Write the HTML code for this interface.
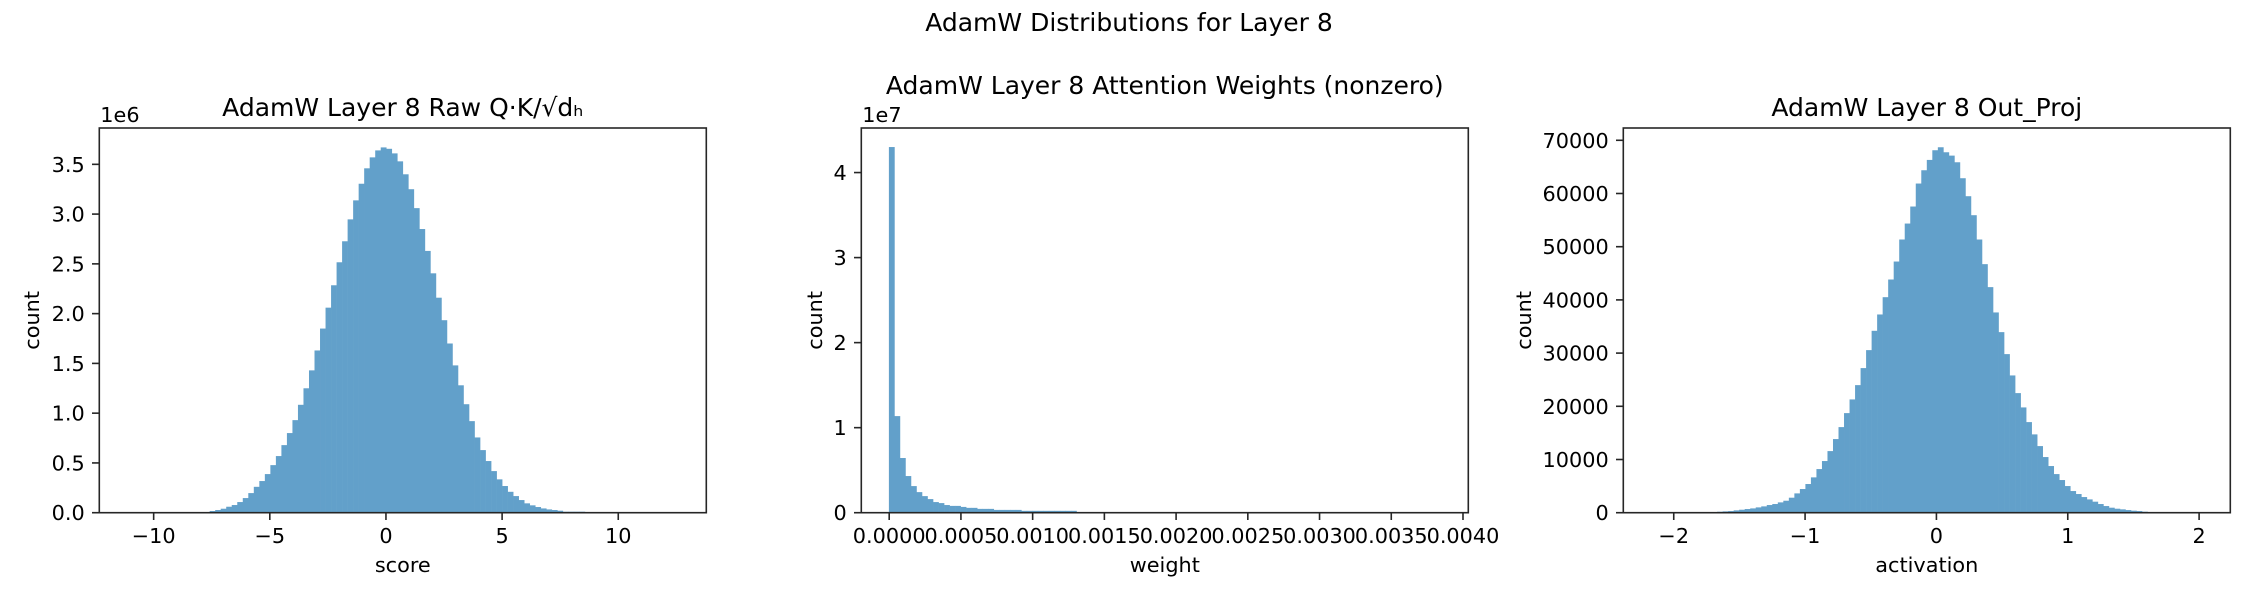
<!DOCTYPE html>
<html><head><meta charset="utf-8"><style>
html,body{margin:0;padding:0;background:#fff}
svg{display:block}
text{font-family:"DejaVu Sans","Liberation Sans",sans-serif;fill:#000}
</style></head><body>
<svg id="fig" width="2250" height="600" viewBox="0 0 2250 600" xmlns="http://www.w3.org/2000/svg">
<rect width="2250" height="600" fill="#fff"/>
<text x="1129" y="31" font-size="25" text-anchor="middle">AdamW Distributions for Layer 8</text>
</svg>
<script>
// ---- Panel 1: Raw Q·K/√dh scores (units of 1e6) ----
const scoreCounts = [0,0,0,0,0,0,0,0.001,0.001,0.001,0.002,0.002,0.003,0.004,
 0.007,0.017,0.027,0.04,0.06,0.077,0.107,0.147,0.197,0.26,
 0.318,0.388,0.478,0.569,0.679,0.80,0.93,1.084,1.25,1.43,
 1.63,1.85,2.06,2.285,2.516,2.727,2.947,3.138,3.305,3.46,
 3.57,3.64,3.67,3.656,3.61,3.53,3.40,3.25,3.06,2.85,
 2.63,2.405,2.16,1.934,1.70,1.48,1.28,1.09,0.92,0.756,
 0.629,0.519,0.418,0.335,0.268,0.21,0.167,0.127,0.094,0.074,
 0.057,0.043,0.033,0.027,0.02,0.01,0.01,0.01,0.01,
 0.005,0.004,0.003,0.002,0.002,0.001,0.001,0.001,0.001,0,0,0,0,0,0,0,0];
const scoreRange = [-12.34, 13.79];
const scoreYMax = 3.865;
const scoreXTicks = [-10,-5,0,5,10];
const scoreXTickLabels = ["\u221210","\u22125","0","5","10"];
const scoreYTicks = [0,0.5,1,1.5,2,2.5,3,3.5];
const scoreYTickLabels = ["0.0","0.5","1.0","1.5","2.0","2.5","3.0","3.5"];

// ---- Panel 2: attention weights (units of 1e7) ----
const weightCounts = [4.30,1.136,0.643,0.431,0.313,0.242,0.195,0.16,0.125,0.113,
 0.09,0.08,0.08,0.068,0.057,0.057,0.045,0.045,0.045,0.033,0.033,0.033,0.033,0.033,
 0.022,0.022,0.022,0.022,0.022,0.022,0.022,0.022,0.022,0.022,
 0.006,0.005,0.005,0.004,0.004,0.004,0.003,0.003,0.003,0.003,0.002,0.002,0.002,0.002,0.002,0.002,
 0.001,0.001,0.001,0.001,0.001,0.001,0.001,0.001,0.001,0.001,
 0.001,0.001,0.001,0.001,0.001,0,0,0,0,0,0,0,0,0,0,0,0,0,0,0,0,0,0,0,0,0,0,0,0,0,0,0,0,0,0,0,0,0,0,0];
const weightRange = [-0.0001945, 0.004037];
const weightYMax = 4.524;
const weightXTicks = [0,0.0005,0.001,0.0015,0.002,0.0025,0.003,0.0035,0.004];
const weightXTickLabels = ["0.0000","0.0005","0.0010","0.0015","0.0020","0.0025","0.0030","0.0035","0.0040"];
const weightYTicks = [0,1,2,3,4];
const weightYTickLabels = ["0","1","2","3","4"];

// ---- Panel 3: Out_Proj activations ----
const actCounts = [0,10,0,20,20,30,40,50,60,80,100,130,180,
 250,310,440,560,690,810,1000,1190,1440,1630,1940,2250,2820,3630,4450,5390,6640,
 8200,9710,11580,13840,16090,18720,21290,23980,27180,30560,34190,37260,40510,43830,
 47210,51350,54350,57550,61870,64370,66310,68130,68690,67750,67120,65870,62870,
 59490,55920,51350,46720,42400,37640,33940,29810,25800,22480,19790,17030,14720,
 12520,10460,8770,7260,6140,5010,4070,3510,2940,2500,2070,1630,1250,940,750,630,500,380,310,190,
 120,90,60,40,30,20,10,10,0,0];
const actRange = [-2.384, 2.2375];
const actYMax = 72310;
const actXTicks = [-2,-1,0,1,2];
const actXTickLabels = ["\u22122","\u22121","0","1","2"];
const actYTicks = [0,10000,20000,30000,40000,50000,60000,70000];
const actYTickLabels = ["0","10000","20000","30000","40000","50000","60000","70000"];

const NS = "http://www.w3.org/2000/svg";
const fig = document.getElementById('fig');
function mk(tag, attrs, parent){
  const e = document.createElementNS(NS, tag);
  for (const k in attrs) e.setAttribute(k, attrs[k]);
  (parent||fig).appendChild(e);
  return e;
}
const TOP = 128, BOT = 512.7;

function panel(o){
  const g = mk('g', {});
  
  
  const L = o.left, R = o.left + 607;
  const xs = v => L + (v - o.range[0]) / (o.range[1] - o.range[0]) * (R - L);
  const ys = v => BOT - v / o.ymax * (BOT - TOP);
  const D = (o.range[1] - o.range[0]) / 1.1;
  const dmin = o.range[0] + 0.05 * D;
  const bw = D / o.counts.length;
  const bars = mk('g', {fill: '#62a0ca'}, g);
  
  
  o.counts.forEach((c, i) => {
    if (c <= 0) return;
    const x0 = xs(dmin + i * bw), x1 = xs(dmin + (i + 1) * bw);
    const r = mk('rect', {x: x0, y: ys(c), width: x1 - x0 + 0.3, height: BOT - ys(c)}, bars);
    
    
  });
  const frame = mk('rect', {x: L, y: TOP, width: R - L, height: BOT - TOP, fill: 'none', stroke: '#262626', 'stroke-width': 1.6}, g);
  
  
  o.xticks.forEach((v, i) => {
    const x = xs(v);
    mk('line', {x1: x, x2: x, y1: BOT, y2: BOT + 7.3, stroke: '#262626', 'stroke-width': 1.6}, g);
    const t = mk('text', {x: x, y: 543, 'font-size': 20.8, 'text-anchor': 'middle'}, g);
    t.textContent = o.xlabels[i];
    
    
  });
  o.yticks.forEach((v, i) => {
    const y = ys(v);
    mk('line', {x1: L - 7.3, x2: L, y1: y, y2: y, stroke: '#262626', 'stroke-width': 1.6}, g);
    const t = mk('text', {x: L - 14.6, y: y + 7.5, 'font-size': 20.8, 'text-anchor': 'end'}, g);
    t.textContent = o.ylabels[i];
    
    
  });
  const xl = mk('text', {x: (L + R) / 2, y: 572, 'font-size': 20.8, 'text-anchor': 'middle'}, g);
  xl.textContent = o.xtitle;
  
  
  const yl = mk('text', {x: 0, y: 0, 'font-size': 20.8, 'text-anchor': 'middle', transform: `translate(${o.ylabelX},${(TOP + BOT) / 2}) rotate(-90)`}, g);
  yl.textContent = 'count';
  
  
  const ti = mk('text', {x: (L + R) / 2, y: o.titleY, 'font-size': 25, 'text-anchor': 'middle'}, g);
  ti.textContent = o.title;
  
  
  if (o.offset) {
    const of = mk('text', {x: L + 1, y: 122, 'font-size': 20.8}, g);
    of.textContent = o.offset;
    
    
  }
}

panel({name: 'score-panel', left: 99.3, range: scoreRange, ymax: scoreYMax, counts: scoreCounts,
  xticks: scoreXTicks, xlabels: scoreXTickLabels, yticks: scoreYTicks, ylabels: scoreYTickLabels,
  xtitle: 'score', ylabelX: 39, title: 'AdamW Layer 8 Raw Q\u00B7K/\u221Ad\u2095', titleY: 116, offset: '1e6'});
panel({name: 'attention-weight-panel', left: 861.3, range: weightRange, ymax: weightYMax, counts: weightCounts,
  xticks: weightXTicks, xlabels: weightXTickLabels, yticks: weightYTicks, ylabels: weightYTickLabels,
  xtitle: 'weight', ylabelX: 822, title: 'AdamW Layer 8 Attention Weights (nonzero)', titleY: 94, offset: '1e7'});
panel({name: 'out-proj-panel', left: 1623.3, range: actRange, ymax: actYMax, counts: actCounts,
  xticks: actXTicks, xlabels: actXTickLabels, yticks: actYTicks, ylabels: actYTickLabels,
  xtitle: 'activation', ylabelX: 1531, title: 'AdamW Layer 8 Out_Proj', titleY: 116});
</script>
</body></html>
